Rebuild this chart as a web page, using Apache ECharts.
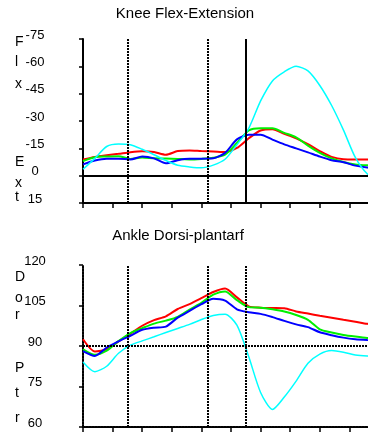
<!DOCTYPE html>
<html>
<head>
<meta charset="utf-8">
<script src="https://cdn.jsdelivr.net/npm/echarts@6/dist/echarts.min.js"></script>
<style>
  html, body { margin: 0; padding: 0; background: #fff; overflow: hidden; }
  /* wider than the window: the plot runs off the right edge, as in the source */
  #chart { width: 384px; height: 432px; }
</style>
</head>
<body>
<div id="chart"></div>
<script>
// % of gait cycle, sampled every 4%
const gaitPct = [0, 4, 8, 12, 16, 20, 24, 28, 32, 36, 40, 44, 48, 52, 56, 60, 64, 68, 72, 76, 80, 84, 88, 92, 96, 100];

// knee angle (flexion negative)
const kneeRed = [-8.9, -10.3, -11.2, -12, -12.9, -13.4, -13, -11.5, -13.5, -13.8, -13.5, -13.3, -13, -15.2, -20.5, -24.8, -25.5, -23, -20.5, -17.3, -13.5, -10.3, -9, -8.9, -8.9, -8.9];
const kneeGreen = [-8, -10.1, -10.5, -10.7, -9.2, -10, -9.5, -9.4, -9.2, -8.9, -9.2, -9.8, -11.5, -17.9, -24.8, -26, -26, -23.5, -21, -16.5, -12.5, -9.5, -7.5, -6.2, -5.7, -5.5];
const kneeBlue = [-6.2, -8.3, -9.3, -9.3, -8.9, -10.5, -9.5, -6.8, -8.5, -9.3, -9.3, -9.5, -12.5, -19.9, -22.5, -22.5, -19.8, -17.2, -15, -12.8, -10.5, -8.5, -7.4, -5.5, -4.5, -4.3];
const kneeCyan = [-3.5, -9.5, -16, -17.4, -17, -14.5, -11.5, -8.3, -5.7, -4.8, -4.3, -5.8, -9, -17, -26, -41, -52, -57, -60, -57.5, -49.5, -38.5, -25, -10, -1, 3];

// ankle angle
const ankleRed = [92.5, 88, 88.8, 91.7, 94.5, 97.5, 99.6, 101, 103.7, 105.5, 107.7, 110, 111.3, 108, 104.7, 104.2, 104.1, 104, 102.8, 102, 101.2, 100.5, 99.7, 99, 98.2, 98];
const ankleGreen = [88.8, 86.8, 88.3, 91.8, 94.8, 96.6, 98.3, 99.4, 100.8, 103.5, 106, 109, 110.2, 107, 104.4, 104.2, 103.6, 102.8, 101.5, 99.7, 96.2, 95, 94.1, 93.5, 93, 92.8];
const ankleBlue = [88.1, 86.3, 89.4, 91.7, 93.8, 96, 96.8, 97.2, 100.5, 103, 105.5, 107.5, 106.8, 103.6, 102.5, 101.9, 100.7, 99.3, 98, 97, 95.1, 94, 93.1, 92.5, 92.2, 92];
const ankleCyan = [84.1, 80.5, 82.5, 87.3, 90.3, 91.9, 93.4, 95, 96.5, 98, 99.8, 101.3, 101.8, 97.7, 86, 72.8, 66.5, 71.1, 77, 83.6, 87, 88.3, 87.7, 86.7, 86.3, 86.2];

const kneeTicks = [-75, -60, -45, -30, -15, 0, 15];
const ankleTicks = [60, 75, 90, 105, 120];
const eventPct = [15, 42, 55];

const FONT = "Liberation Sans";
const DOTTED = [2, 1];

const pairs = (values) => gaitPct.map((p, i) => [p, values[i]]);

const lineSeries = (grid, color, width, values) => ({
  type: "line",
  xAxisIndex: grid,
  yAxisIndex: grid,
  data: pairs(values),
  symbol: "none",
  smooth: 0.25,
  silent: true,
  lineStyle: { color: color, width: width },
  itemStyle: { color: color },
});

const markLines = (eventTypes, hLine) => ({
  silent: true,
  symbol: ["none", "none"],
  label: { show: false },
  animation: false,
  data: eventPct.map((p, i) => ({
    xAxis: p,
    lineStyle: { color: "#000", width: 2, type: eventTypes[i] },
  })).concat([{ yAxis: hLine.value, lineStyle: { color: "#000", width: 2, type: hLine.type } }]),
});

const xAxisFor = (grid, lineType) => ({
  gridIndex: grid,
  type: "value",
  min: 0,
  max: 100,
  interval: 10,
  axisLine: { onZero: false, lineStyle: { color: "#000", width: 2, type: lineType } },
  axisTick: { length: 5, lineStyle: { color: "#000", width: 1.5 } },
  axisLabel: { show: false },
  splitLine: { show: false },
});

const yAxisFor = (grid, ticks, inverse, lineType) => ({
  gridIndex: grid,
  type: "value",
  min: ticks[0],
  max: ticks[ticks.length - 1],
  interval: 15,
  inverse: inverse,
  axisLine: { show: true, onZero: false, lineStyle: { color: "#000", width: 2, type: lineType } },
  axisTick: { show: true, length: 4, lineStyle: { color: "#000", width: 1.5 } },
  axisLabel: {
    margin: 48,
    align: "center",
    verticalAlign: "bottom",
    lineHeight: 8,
    color: "#000",
    fontSize: 13,
    fontFamily: FONT,
  },
  splitLine: { show: false },
});

const textAt = (text, x, y, size, align) => ({
  type: "text",
  x: x,
  y: y,
  silent: true,
  style: {
    text: text,
    fill: "#000",
    font: size + "px '" + FONT + "'",
    textAlign: align,
    textVerticalAlign: "middle",
  },
});

// stacked axis-name letters
const letters = [
  ["F", 42], ["l", 62], ["x", 84], ["E", 162], ["x", 183], ["t", 197],
  ["D", 277], ["o", 298], ["r", 315], ["P", 368], ["t", 393], ["r", 418],
];

const chart = echarts.init(document.getElementById("chart"), null, { renderer: "canvas" });

const kneeSeries = [
  lineSeries(0, "#ff0000", 2, kneeRed),
  lineSeries(0, "#00f000", 2, kneeGreen),
  lineSeries(0, "#0000ff", 2, kneeBlue),
  lineSeries(0, "#00ffff", 1.5, kneeCyan),
];
kneeSeries[0].markLine = markLines([DOTTED, DOTTED, "solid"], { value: 0, type: "solid" });

const ankleSeries = [
  lineSeries(1, "#ff0000", 2, ankleRed),
  lineSeries(1, "#00f000", 2, ankleGreen),
  lineSeries(1, "#0000ff", 2, ankleBlue),
  lineSeries(1, "#00ffff", 1.5, ankleCyan),
];
ankleSeries[0].markLine = markLines([DOTTED, DOTTED, DOTTED], { value: 90, type: DOTTED });

chart.setOption({
  backgroundColor: "#fff",
  animation: false,
  grid: [
    { left: 83, top: 39, width: 296, height: 164 },
    { left: 83, top: 265, width: 296, height: 162 },
  ],
  xAxis: [xAxisFor(0, "solid"), xAxisFor(1, DOTTED)],
  yAxis: [yAxisFor(0, kneeTicks, true, "solid"), yAxisFor(1, ankleTicks, false, DOTTED)],
  graphic: [
    textAt("Knee Flex-Extension", 185, 14, 15, "center"),
    textAt("Ankle Dorsi-plantarf", 178, 236, 15, "center"),
  ].concat(letters.map((l) => textAt(l[0], 15, l[1], 14, "left"))),
  series: kneeSeries.concat(ankleSeries),
});
</script>
</body>
</html>
